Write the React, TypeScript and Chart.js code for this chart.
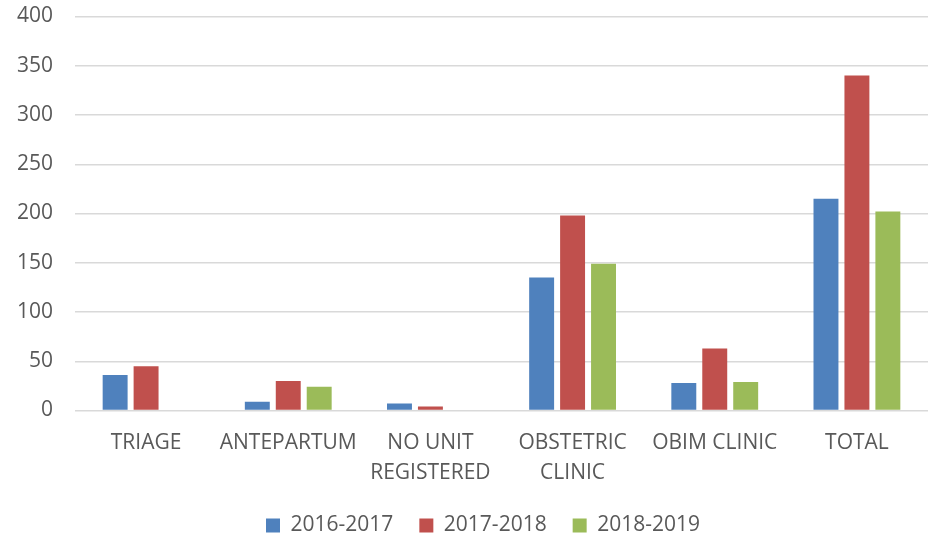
import React, { useEffect, useRef } from "react";
import { Chart, registerables } from "chart.js";

Chart.register(...registerables);

const categories: (string | string[])[] = [
  "TRIAGE",
  "ANTEPARTUM",
  ["NO UNIT", "REGISTERED"],
  ["OBSTETRIC", "CLINIC"],
  "OBIM CLINIC",
  "TOTAL",
];
const series2016: (number | null)[] = [36, 9, 7, 135, 28, 215];
const series2017: (number | null)[] = [45, 30, 4, 198, 63, 340];
const series2018: (number | null)[] = [null, 24, null, 149, 29, 202];
const seriesLabels = ["2016-2017", "2017-2018", "2018-2019"];
const seriesColors = ["#4f81bd", "#c0504d", "#9bbb59"];

const FONT = "'Open Sans', 'Liberation Sans', sans-serif";
const TEXT = "#595959";

const legendShift = {
  id: "legendShift",
  afterLayout(chart: any) {
    if (chart.legend) chart.legend.left += 38;
  },
};

export default function App() {
  const ref = useRef<HTMLCanvasElement | null>(null);
  useEffect(() => {
    if (!ref.current) return;
    const chart = new Chart(ref.current, {
      type: "bar",
      data: {
        labels: categories,
        datasets: [series2016, series2017, series2018].map((d, i) => ({
          label: seriesLabels[i],
          data: d,
          backgroundColor: seriesColors[i],
          borderWidth: 0,
          categoryPercentage: 0.653,
          barPercentage: 0.806,
        })),
      },
      options: {
        animation: false,
        responsive: false,
        maintainAspectRatio: false,
        layout: { padding: { top: 16.5, right: 2, bottom: 0, left: 0 } },
        plugins: {
          legend: {
            position: "bottom",
            maxHeight: 46,
            labels: {
              boxWidth: 14,
              boxHeight: 14,
              padding: 26,
              color: TEXT,
              font: { family: FONT, size: 21 },
            },
          },
          tooltip: { enabled: false },
        },
        scales: {
          x: {
            grid: { display: false, drawTicks: false },
            border: { display: false },
            ticks: {
              color: TEXT,
              font: { family: FONT, size: 21, lineHeight: "30px" },
              padding: 18,
              maxRotation: 0,
              autoSkip: false,
            },
            afterFit: (s: any) => {
              s.height = 78.5;
            },
          },
          y: {
            min: 0,
            max: 400,
            ticks: {
              stepSize: 50,
              color: TEXT,
              font: { family: FONT, size: 21 },
              padding: 22,
            },
            grid: { color: "#d9d9d9", lineWidth: 1.5, drawTicks: false },
            border: { display: false },
            afterFit: (s: any) => {
              s.width = 75;
              s.paddingTop = 0;
              s.paddingBottom = 0;
            },
          },
        },
      },
      plugins: [legendShift],
    });
    return () => chart.destroy();
  }, []);
  return (
    <div style={{ position: "fixed", left: 0, top: 0, width: 930, height: 535, background: "#fff" }}>
      <canvas ref={ref} width={930} height={535} style={{ width: 930, height: 535 }} />
    </div>
  );
}
